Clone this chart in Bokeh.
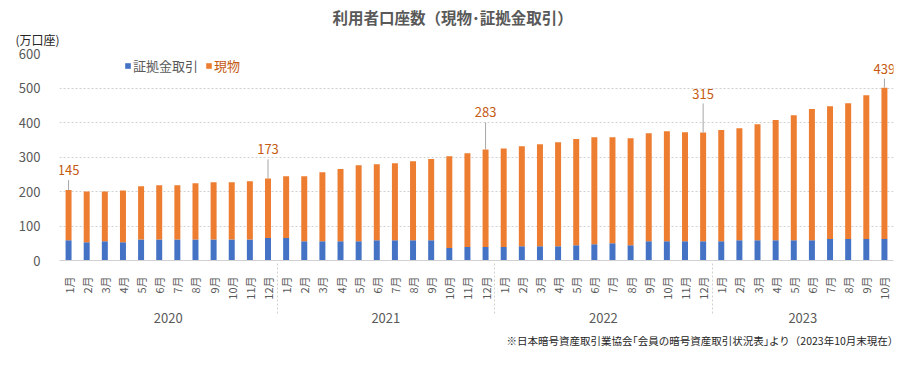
import math
from bokeh.plotting import figure
from bokeh.models import (FactorRange, Range1d, Legend, LegendItem, Title,
                          ColumnDataSource, SingleIntervalTicker)
from bokeh.embed import file_html
from bokeh.resources import INLINE
from bokeh.core.properties import value

# ---------------- data ----------------
years = ["2020", "2021", "2022", "2023"]
month_labels = ["1月", "2月", "3月", "4月", "5月", "6月",
                "7月", "8月", "9月", "10月", "11月", "12月"]
months_per_year = [12, 12, 12, 10]

# 現物 (spot) accounts, 万口座
spot_2020 = [145, 147, 144, 150, 154, 157, 157, 163, 166, 166, 169, 173]
spot_2021 = [179, 188, 200, 209, 220, 220, 223, 229, 235, 266, 272, 283]
spot_2022 = [286, 290, 296, 302, 308, 310, 307, 310, 313, 319, 316, 315]
spot_2023 = [322, 324, 336, 348, 362, 380, 385, 394, 417, 439]

# 証拠金取引 (margin) accounts, 万口座
margin_2020 = [59, 53, 56, 53, 61, 61, 61, 61, 61, 61, 61, 65]
margin_2021 = [65, 56, 56, 56, 56, 59, 59, 59, 59, 36, 39, 39]
margin_2022 = [39, 41, 41, 41, 44, 47, 50, 44, 56, 56, 56, 56]
margin_2023 = [56, 59, 59, 59, 59, 59, 62, 62, 62, 62]

# bars whose 現物 value is annotated
labelled_idx = [0, 11, 23, 35, 45]

# ---------------- styling ----------------
FONT = "Noto Sans CJK JP"
BLUE = "#4472C4"
ORANGE = "#ED7D31"
LABEL_ORANGE = "#C55A11"
GREY_TEXT = "#595959"
GRID = "#D0D0D0"
label_offsets_px = [20, 29, 37, 39, 19]   # label height above bar top (px)

W, H = 904, 357
B_LEFT, B_RIGHT, B_TOP, B_BOTTOM = 59, 11, 53, 97
FRAME_W = W - B_LEFT - B_RIGHT
FRAME_H = H - B_TOP - B_BOTTOM
Y_MAX = 600
px2data = Y_MAX / FRAME_H

# ---------------- build ----------------
spot = spot_2020 + spot_2021 + spot_2022 + spot_2023
margin = margin_2020 + margin_2021 + margin_2022 + margin_2023
factors = [(y, month_labels[i]) for y, n in zip(years, months_per_year) for i in range(n)]
totals = [a + b for a, b in zip(spot, margin)]

src = ColumnDataSource(dict(x=factors, margin=margin, spot=spot))

p = figure(x_range=FactorRange(*factors, group_padding=0, factor_padding=0, range_padding=0),
           y_range=Range1d(0, Y_MAX),
           width=W, height=H, output_backend="svg", toolbar_location=None,
           min_border_left=B_LEFT, min_border_right=B_RIGHT,
           min_border_top=B_TOP, min_border_bottom=B_BOTTOM)
p.outline_line_color = None
p.background_fill_color = "white"
p.border_fill_color = "white"

rs = p.vbar_stack(["margin", "spot"], x="x", width=0.33, color=[BLUE, ORANGE],
                  line_color=None, source=src)

# grid
p.xgrid.grid_line_color = None
p.ygrid.grid_line_color = GRID
p.ygrid.grid_line_dash = "2 2"
p.ygrid.grid_line_width = 1

# y axis
p.yaxis.ticker = SingleIntervalTicker(interval=100)
p.yaxis.axis_line_color = None
p.yaxis.major_tick_line_color = None
p.yaxis.minor_tick_line_color = None
p.yaxis.major_label_text_font = FONT
p.yaxis.major_label_text_font_size = "13px"
p.yaxis.major_label_text_color = GREY_TEXT
p.yaxis.major_label_standoff = 13

# x axis
xa = p.xaxis[0]
xa.axis_line_color = GRID
xa.major_tick_line_color = None
xa.minor_tick_line_color = None
xa.major_label_orientation = math.pi / 2
xa.major_label_text_font = FONT
xa.major_label_text_font_size = "11px"
xa.major_label_text_color = GREY_TEXT
xa.major_label_standoff = 10
xa.group_text_font = FONT
xa.group_text_font_size = "13px"
xa.group_text_font_style = "normal"
xa.group_text_color = GREY_TEXT
xa.separator_line_color = GRID
xa.separator_line_dash = "2 2"
xa.separator_line_width = 1

# data labels with leader lines
lx = [factors[i] for i in labelled_idx]
ly = [totals[i] + off * px2data for i, off in zip(labelled_idx, label_offsets_px)]
lt = [str(spot[i]) for i in labelled_idx]
l0 = [totals[i] for i in labelled_idx]
l1 = [totals[i] + (off - 10) * px2data for i, off in zip(labelled_idx, label_offsets_px)]
p.segment(x0=lx, y0=l0, x1=lx, y1=l1, line_color="#A6A6A6", line_width=1)
p.text(x=lx, y=ly, text=lt, text_font=value(FONT), text_font_size="13px",
       text_color=LABEL_ORANGE, text_align="center", text_baseline="middle")

# legends (two, so each label keeps its own colour)
common = dict(orientation="horizontal", label_text_font=FONT, label_text_font_size="13px",
              glyph_width=7, glyph_height=7, label_standoff=2, padding=0, margin=0,
              spacing=0, background_fill_alpha=0, border_line_color=None, label_height=14)
leg1 = Legend(items=[LegendItem(label="証拠金取引", renderers=[rs[0]])],
              location=(65, 185), label_text_color=GREY_TEXT, **common)
leg2 = Legend(items=[LegendItem(label="現物", renderers=[rs[1]])],
              location=(146, 185), label_text_color=LABEL_ORANGE, **common)
p.add_layout(leg1)
p.add_layout(leg2)

# unit label (closest to the frame), then main title
p.add_layout(Title(text="(万口座)", align="left", offset=-44, standoff=12,
                   text_font=FONT, text_font_size="12px", text_font_style="normal",
                   text_color="#262626"), "above")
p.title.text = "利用者口座数（現物･証拠金取引）"
p.title.align = "left"
p.title.offset = 273
p.title.standoff = -10
p.title.text_font = FONT
p.title.text_font_size = "15.5px"
p.title.text_font_style = "bold"
p.title.text_color = GREY_TEXT

# footnote
p.add_layout(Title(text="※日本暗号資産取引業協会｢会員の暗号資産取引状況表｣より（2023年10月末現在）",
                   align="right", offset=-5, standoff=11,
                   text_font=FONT, text_font_size="10.5px", text_font_style="normal",
                   text_color="#262626"), "below")

open("out.html", "w").write(file_html(p, INLINE))
